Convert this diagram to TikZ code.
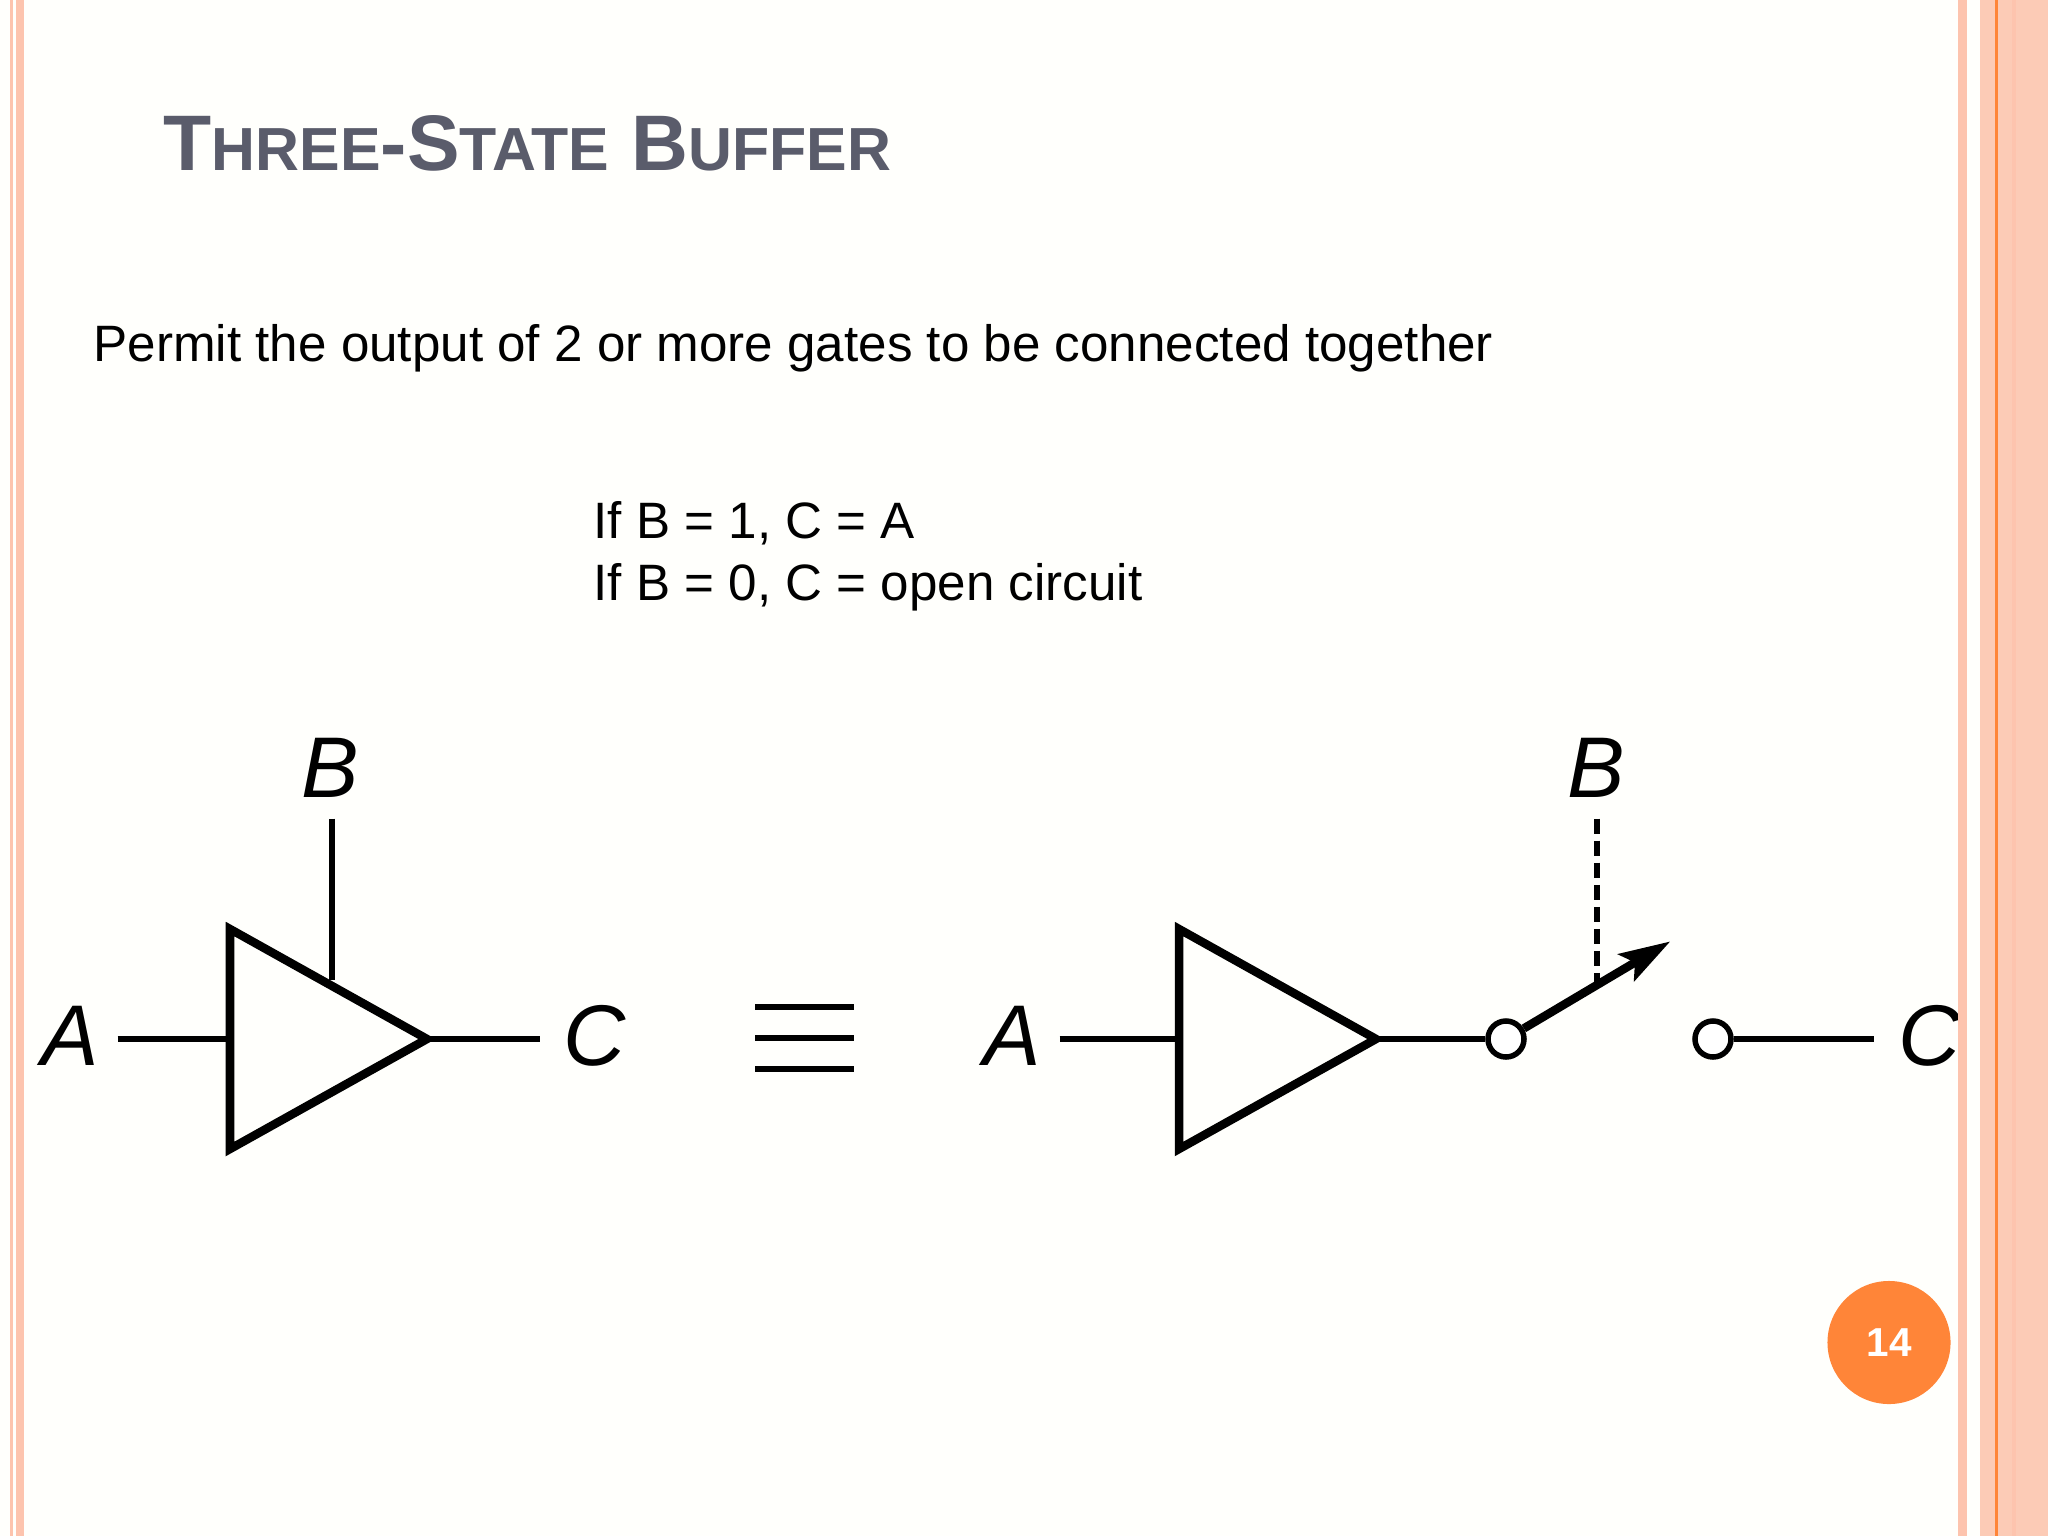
\documentclass[tikz,border=0pt]{standalone}
\usepackage{fontspec}
\setmainfont{Liberation Sans}
\usepackage{xcolor}
\usetikzlibrary{arrows.meta, calc, positioning}
\definecolor{bandpeach}{HTML}{FDC4AE}
\definecolor{bandpale}{HTML}{FCCBB6}
\definecolor{bandorange}{HTML}{FF8538}
\definecolor{titlegrey}{HTML}{5A5C6B}
\newcommand{\capT}[1]{{\fontsize{22.4}{26}\selectfont #1}}
\newcommand{\capS}[1]{{\fontsize{17.3}{26}\selectfont #1}}
\tikzset{
    pin/.style={inner sep=0cm, minimum size=0cm},
    wire/.style={line width=0.055cm},
    sym/.style={inner sep=0cm, font=\fontsize{24.5}{24.5}\selectfont\itshape, anchor=base},
    body/.style={inner sep=0cm, anchor=base west, font=\fontsize{14.55}{14.55}\selectfont},
    contact/.style={circle, draw, line width=0.055cm, fill=white, minimum size=0.36cm, inner sep=0cm},
}
\newcommand{\buffer}[2]{
    \node[pin] (#1-c) at (#2) {};
    \node[pin] (#1-l) at ($(#1-c) + (0, 0)$) {};
    \node[pin] (#1-r) at ($(#1-c) + (196, 0)$) {};
    \node[pin] (#1-u) at ($(#1-c) + (102, -58)$) {};
    \draw[line width=0.085cm, miter limit=10]
    ($(#1-c) + (0, -110)$) -- ($(#1-c) + (197, 0)$) -- ($(#1-c) + (0, 110)$) -- cycle;
}
\begin{document}
\begin{tikzpicture}[x=0.01cm, y=-0.01cm]
    \useasboundingbox (0, 0) rectangle (2048, 1536);
    \fill[white!99!yellow] (0, 0) rectangle (2048, 1536);
    % text
    \node[inner sep=0cm, anchor=base west, text=titlegrey, font=\bfseries] (title) at (163, 170)
    {\capT{T}\capS{HREE}\capT{-S}\capS{TATE}\capT{ B}\capS{UFFER}};
    \node[body] (permit) at (93, 361) {Permit the output of 2 or more gates to be connected together};
    \node[body] (ifone) at (593, 538) {If B = 1, C = A};
    \node[body] (ifzero) at (593, 600) {If B = 0, C = open circuit};
    % left gate
    \buffer{g}{230, 1039}
    \node[sym] (a1) at (70, 1065) {A};
    \node[sym] (b1) at (330, 797) {B};
    \node[sym] (c1) at (595, 1065) {C};
    \node[pin] (a1-w) at (117, 1039) {};
    \node[pin] (b1-w) at (332, 818) {};
    \node[pin] (c1-w) at (541, 1039) {};
    \draw[wire]
    (a1-w) -- (g-l)
    (g-r) -- (c1-w)
    (b1-w) -- (g-u);
    % equivalence
    \foreach \y in {1007, 1038, 1069}
        \draw[wire] (755, \y) -- (854, \y);
    % right gate
    \buffer{h}{1179, 1039}
    \node[sym] (a2) at (1012, 1065) {A};
    \node[sym] (b2) at (1596, 797) {B};
    \node[sym] (c2) at (1930, 1065) {C};
    \node[contact] (s1) at (1506, 1039) {};
    \node[contact] (s2) at (1713, 1039) {};
    \node[pin] (a2-w) at (1059, 1039) {};
    \node[pin] (b2-w) at (1597, 818) {};
    \node[pin] (c2-w) at (1875, 1039) {};
    \node[pin] (lever) at (1671, 941) {};
    \node[pin] (lever-m) at (1597, 985) {};
    \draw[wire]
    (a2-w) -- (h-l)
    (h-r) -- (s1)
    (s2) -- (c2-w);
    \draw[line width=0.06cm, dash pattern=on 0.15cm off 0.07cm] (b2-w) -- (lever-m);
    \draw[line width=0.085cm, -{Stealth[length=0.51cm, width=0.31cm, inset=0.1cm]}] (s1) -- (lever);
    % borders
    \fill[bandpeach] (10, 0) rectangle (13, 1536);
    \fill[bandpeach] (16, 0) rectangle (24, 1536);
    \fill[bandpeach] (1958, 0) rectangle (1967, 1536);
    \fill[bandpale] (1980, 0) rectangle (2048, 1536);
    \fill[bandpeach] (2012, 0) rectangle (2016, 1536);
    \fill[bandorange] (1995, 0) rectangle (1998, 1536);
    % page number
    \node[circle, fill=bandorange, minimum size=1.23cm, inner sep=0cm, text=white,
    font=\fontsize{11.5}{11.5}\selectfont\bfseries] (page) at (1889, 1342.5) {14};
\end{tikzpicture}
\end{document}
